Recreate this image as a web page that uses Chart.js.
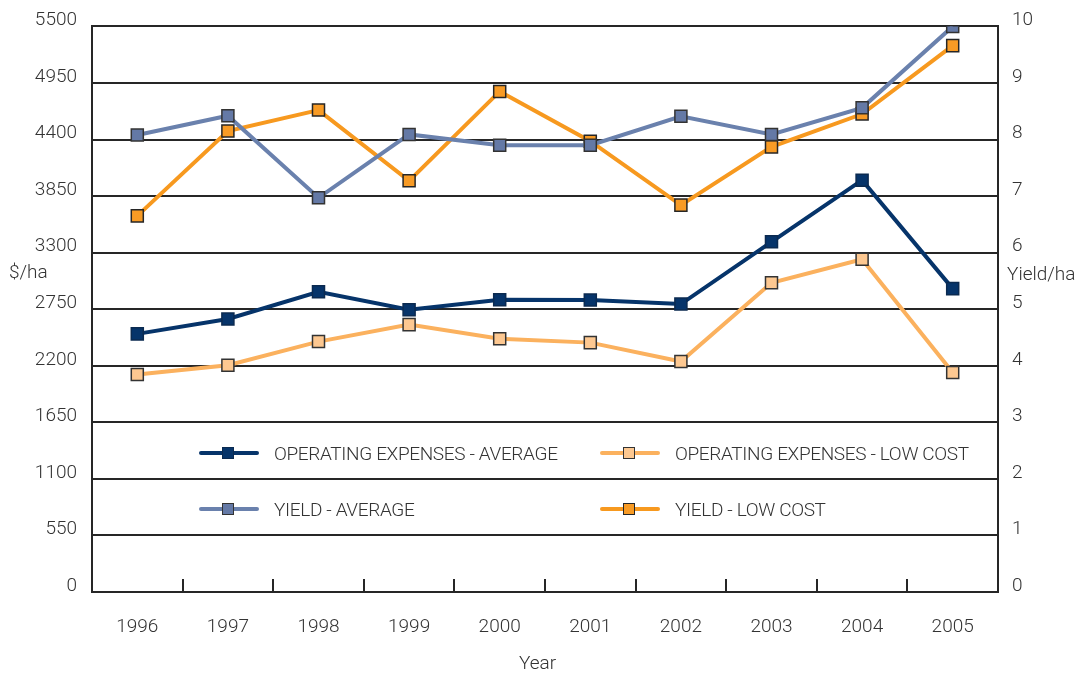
<!DOCTYPE html>
<html>
<head>
<meta charset="utf-8">
<script src="https://cdn.jsdelivr.net/npm/chart.js@4.4.1/dist/chart.umd.min.js"></script>
<style>
  body { margin: 0; background: #fff; }
  #wrap { position: relative; width: 1088px; height: 678px; font-family: Roboto, sans-serif; font-weight: 300; color: #333; }
  #wrap canvas { position: absolute; left: 0; top: 0; }
  .lbl { position: absolute; font-size: 19px; line-height: 1; white-space: nowrap; }
  .leg { position: absolute; height: 20px; display: flex; align-items: center; font-size: 19px; letter-spacing: -0.35px; white-space: nowrap; }
  .sym { position: relative; width: 60px; height: 20px; margin-right: 15px; }
  .sym .ln { position: absolute; left: 0; right: 0; top: 8px; height: 4px; border-radius: 2px; }
  .sym .mk { position: absolute; left: 23px; top: 4px; width: 10px; height: 10px; border: 1.5px solid #333; }
</style>
</head>
<body>
<div id="wrap">
  <canvas id="chart" width="1088" height="678"></canvas>
  <div class="lbl" style="left:9px; top:262px;">$/ha</div>
  <div class="lbl" style="left:1007px; top:264px;">Yield/ha</div>
  <div class="lbl" style="left:519px; top:653px;">Year</div>
  <div id="legend"></div>
</div>
<script>
const years = ['1996', '1997', '1998', '1999', '2000', '2001', '2002', '2003', '2004', '2005'];

// $/ha (left axis)
const opexAverage = [2510, 2655, 2920, 2745, 2842, 2840, 2800, 3405, 4005, 2950];
const opexLowCost = [2115, 2205, 2435, 2600, 2462, 2425, 2241, 3007, 3235, 2134];

// yield/ha (right axis)
const yieldAverage = [8.08, 8.42, 6.97, 8.09, 7.90, 7.90, 8.41, 8.09, 8.56, 10.0];
const yieldLowCost = [6.65, 8.15, 8.52, 7.27, 8.85, 7.97, 6.84, 7.87, 8.45, 9.66];

const dollarTicks = [0, 550, 1100, 1650, 2200, 2750, 3300, 3850, 4400, 4950, 5500];
const yieldTicks = [0, 1, 2, 3, 4, 5, 6, 7, 8, 9, 10];

const TEXT = '#333';
const GRID = '#262626';
const FONT = { family: 'Roboto, sans-serif', size: 19, weight: 300 };

const series = [
    { label: 'OPERATING EXPENSES - AVERAGE', data: opexAverage, axis: 'y', line: '#06346a', fill: '#06346a', edge: '#0b2a50', col: 0, row: 0 },
    { label: 'OPERATING EXPENSES - LOW COST', data: opexLowCost, axis: 'y', line: '#fbb15e', fill: '#fdc891', edge: '#333', col: 1, row: 0 },
    { label: 'YIELD - AVERAGE', data: yieldAverage, axis: 'y1', line: '#6a81ad', fill: '#6479a6', edge: '#333', col: 0, row: 1 },
    { label: 'YIELD - LOW COST', data: yieldLowCost, axis: 'y1', line: '#f7991f', fill: '#f89b25', edge: '#262626', col: 1, row: 1 },
];

// small tick marks pointing up from the x axis, between categories
const innerTicks = {
    id: 'innerTicks',
    afterDraw(chart) {
        const x = chart.scales.x;
        const bottom = chart.chartArea.bottom;
        const c = chart.ctx;
        c.save();
        c.strokeStyle = GRID;
        c.lineWidth = 2;
        for (let i = 0; i < years.length - 1; i++) {
            const px = Math.round((x.getPixelForValue(i) + x.getPixelForValue(i + 1)) / 2);
            c.beginPath();
            c.moveTo(px, bottom);
            c.lineTo(px, bottom - 13);
            c.stroke();
        }
        c.restore();
    }
};

new Chart(document.getElementById('chart'), {
    type: 'line',
    data: {
        labels: years,
        datasets: series.map(s => ({
            label: s.label,
            data: s.data,
            yAxisID: s.axis,
            borderColor: s.line,
            borderWidth: 4,
            tension: 0,
            pointStyle: 'rect',
            pointRadius: 8.5,
            pointBackgroundColor: s.fill,
            pointBorderColor: s.edge,
            pointBorderWidth: 1.5,
        }))
    },
    options: {
        responsive: false,
        animation: false,
        layout: { padding: { top: 25, left: 0, right: 0, bottom: 0 } },
        plugins: { legend: { display: false }, tooltip: { enabled: false } },
        scales: {
            x: {
                offset: true,
                afterFit: s => { s.height = 86; },
                grid: { offset: true, drawOnChartArea: false, drawTicks: false },
                border: { color: GRID, width: 2 },
                ticks: { color: TEXT, font: FONT, padding: 24, maxRotation: 0 }
            },
            y: {
                position: 'left',
                min: 0, max: 5500,
                afterFit: s => { s.width = 92; },
                afterBuildTicks: s => { s.ticks = dollarTicks.map(v => ({ value: v })); },
                grid: { color: GRID, lineWidth: 2, drawTicks: false },
                border: { color: GRID, width: 2 },
                ticks: { color: TEXT, font: FONT, padding: 15, labelOffset: -6, callback: v => String(v) }
            },
            y1: {
                position: 'right',
                min: 0, max: 10,
                afterFit: s => { s.width = 90; },
                afterBuildTicks: s => { s.ticks = yieldTicks.map(v => ({ value: v })); },
                grid: { drawOnChartArea: false, drawTicks: false },
                border: { color: GRID, width: 2 },
                ticks: { color: TEXT, font: FONT, padding: 14, labelOffset: -6, callback: v => String(v) }
            }
        }
    },
    plugins: [innerTicks]
});

// legend sits inside the plot, two rows by two columns
const legend = document.getElementById('legend');
const legX = [199, 600];
const legY = [443, 499];
series.forEach(s => {
    const el = document.createElement('div');
    el.className = 'leg';
    el.style.left = legX[s.col] + 'px';
    el.style.top = legY[s.row] + 'px';
    el.innerHTML = `<div class="sym"><div class="ln" style="background:${s.line}"></div>` +
        `<div class="mk" style="background:${s.fill};border-color:${s.edge}"></div></div><span>${s.label}</span>`;
    legend.appendChild(el);
});
</script>
</body>
</html>
